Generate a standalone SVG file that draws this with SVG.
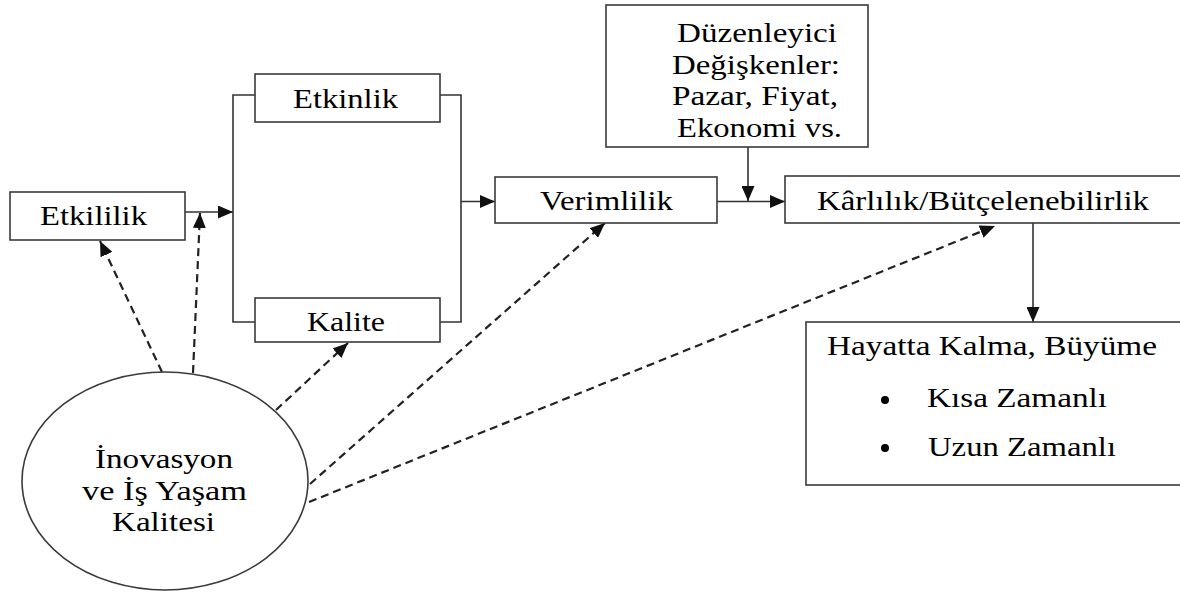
<svg xmlns="http://www.w3.org/2000/svg" width="1180" height="594" viewBox="0 0 1180 594">
<defs>
<style>
.box{fill:#fff;stroke:#3a3a3a;stroke-width:1.6}
.t{font-family:"Liberation Serif","Times New Roman",serif;font-size:27px;fill:#000}
.ln{fill:none;stroke:#333;stroke-width:1.6}
.dash{fill:none;stroke:#222;stroke-width:2.2;stroke-dasharray:8 5}
</style>
<marker id="ah" markerUnits="userSpaceOnUse" markerWidth="15" markerHeight="13" refX="15" refY="6.5" orient="auto">
<path d="M0,0 L15,6.5 L0,13 z" fill="#111"/>
</marker>
</defs>
<rect width="1180" height="594" fill="#fff"/>
<g id="connectors">
<line class="ln" x1="185" y1="212" x2="233" y2="212" marker-end="url(#ah)"/>
<polyline class="ln" points="255,95 233,95 233,322 255,322"/>
<polyline class="ln" points="440,95 461,95 461,322 440,322"/>
<line class="ln" x1="461" y1="201.5" x2="495" y2="201.5" marker-end="url(#ah)"/>
<line class="ln" x1="717" y1="201.5" x2="785" y2="201.5" marker-end="url(#ah)"/>
<line class="ln" x1="748" y1="147" x2="748" y2="201" marker-end="url(#ah)"/>
<line class="ln" x1="1033" y1="223" x2="1033" y2="322" marker-end="url(#ah)"/>
<line class="dash" x1="162" y1="372" x2="100" y2="241" marker-end="url(#ah)"/>
<line class="dash" x1="193" y1="373" x2="200" y2="213" marker-end="url(#ah)"/>
<line class="dash" x1="276" y1="410" x2="348" y2="343" marker-end="url(#ah)"/>
<line class="dash" x1="310" y1="484" x2="605" y2="223" marker-end="url(#ah)"/>
<line class="dash" x1="309" y1="502" x2="995" y2="226" marker-end="url(#ah)"/>
</g>
<g id="etkililik">
<rect class="box" x="10" y="192" width="175" height="48"/>
<text class="t" x="40" y="225" textLength="107" lengthAdjust="spacingAndGlyphs">Etkililik</text>
</g>
<g id="etkinlik">
<rect class="box" x="255" y="74" width="185" height="48"/>
<text class="t" x="293" y="108" textLength="105" lengthAdjust="spacingAndGlyphs">Etkinlik</text>
</g>
<g id="kalite">
<rect class="box" x="255" y="298" width="185" height="44"/>
<text class="t" x="307" y="331" textLength="78" lengthAdjust="spacingAndGlyphs">Kalite</text>
</g>
<g id="verimlilik">
<rect class="box" x="495" y="177" width="222" height="46"/>
<text class="t" x="540" y="210" textLength="133" lengthAdjust="spacingAndGlyphs">Verimlilik</text>
</g>
<g id="duzenleyici">
<rect class="box" x="606" y="5" width="262" height="142"/>
<text class="t" x="677" y="42" textLength="160" lengthAdjust="spacingAndGlyphs">Düzenleyici</text>
<text class="t" x="672" y="74" textLength="168" lengthAdjust="spacingAndGlyphs">Değişkenler:</text>
<text class="t" x="672" y="105" textLength="166" lengthAdjust="spacingAndGlyphs">Pazar, Fiyat,</text>
<text class="t" x="677" y="137" textLength="165" lengthAdjust="spacingAndGlyphs">Ekonomi vs.</text>
</g>
<g id="karlilik">
<rect class="box" x="785" y="176" width="405" height="47"/>
<text class="t" x="817" y="210" textLength="332" lengthAdjust="spacingAndGlyphs">Kârlılık/Bütçelenebilirlik</text>
</g>
<g id="hayatta">
<rect class="box" x="806" y="322" width="384" height="163"/>
<text class="t" x="827" y="355" textLength="330" lengthAdjust="spacingAndGlyphs">Hayatta Kalma, Büyüme</text>
<circle cx="885" cy="400" r="4" fill="#000"/>
<text class="t" x="927" y="407" textLength="180" lengthAdjust="spacingAndGlyphs">Kısa Zamanlı</text>
<circle cx="885" cy="448" r="4" fill="#000"/>
<text class="t" x="928" y="456" textLength="188" lengthAdjust="spacingAndGlyphs">Uzun Zamanlı</text>
</g>
<g id="inovasyon">
<ellipse class="box" cx="165" cy="481" rx="143" ry="109"/>
<text class="t" x="95" y="468" textLength="138" lengthAdjust="spacingAndGlyphs">İnovasyon</text>
<text class="t" x="82" y="500" textLength="165" lengthAdjust="spacingAndGlyphs">ve İş Yaşam</text>
<text class="t" x="112" y="531" textLength="103" lengthAdjust="spacingAndGlyphs">Kalitesi</text>
</g>
</svg>
